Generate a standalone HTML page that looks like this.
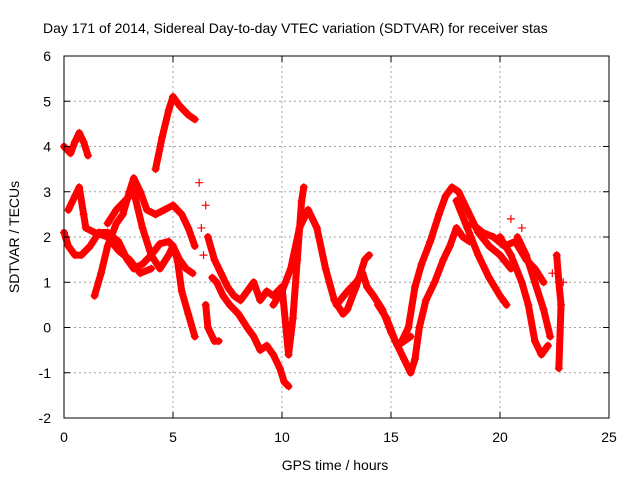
<!DOCTYPE html>
<html><head><meta charset="utf-8"><style>
body{margin:0;background:#fff}
svg text{font-family:"Liberation Sans",sans-serif;font-size:14px;fill:#000}
</style></head><body>
<svg id="chart" width="640" height="480" xmlns="http://www.w3.org/2000/svg">
<text x="43" y="33">Day 171 of 2014, Sidereal Day-to-day VTEC variation (SDTVAR) for receiver stas</text>
<g id="grid"></g>
<g id="series"></g>
<rect x="64" y="56" width="545" height="362" fill="none" stroke="#000" stroke-width="1"/>
<g id="ticks"></g>
<text x="335" y="470" text-anchor="middle">GPS time / hours</text>
<text transform="translate(19,237) rotate(-90)" text-anchor="middle">SDTVAR / TECUs</text>
</svg>
<script>
const xTicks=[0,5,10,15,20,25];
const yTicks=[-2,-1,0,1,2,3,4,5,6];
const track1=[[0,4.0],[0.3,3.85],[0.5,4.1],[0.7,4.3],[0.9,4.1],[1.1,3.8]];
const track2=[[4.2,3.5],[4.5,4.2],[4.8,4.8],[5.0,5.1],[5.3,4.9],[5.7,4.7],[6.0,4.6]];
const track3=[[0,2.1],[0.2,1.8],[0.5,1.6],[0.8,1.6],[1.2,1.8],[1.6,2.1],[2.0,2.1],[2.5,1.9],[2.9,1.5],[3.2,1.3],[3.6,1.4],[4.0,1.6],[4.4,1.85],[4.8,1.9],[5.0,1.8],[5.3,1.5],[5.6,1.3],[5.9,1.2]];
const track4=[[0.2,2.6],[0.5,2.9],[0.7,3.1],[0.9,2.5],[1.0,2.2],[1.4,2.1],[2.0,2.0],[2.5,1.7],[3.0,1.5],[3.5,1.2],[4.0,1.3]];
const track5=[[1.4,0.7],[1.7,1.2],[2.0,1.8],[2.4,2.3],[2.7,2.5],[3.0,3.0],[3.2,3.3],[3.5,3.0],[3.8,2.6],[4.2,2.5],[4.6,2.6],[5.0,2.7],[5.4,2.5],[5.7,2.2],[6.0,1.8]];
const track6=[[2.0,2.3],[2.4,2.6],[2.8,2.8],[3.2,3.0],[3.6,2.2],[4.0,1.6],[4.4,1.3],[4.8,1.6],[5.0,1.8],[5.2,1.5],[5.4,0.8],[5.7,0.3],[6.0,-0.2]];
const track7=[[6.8,1.1],[7.0,1.0],[7.3,0.7],[7.6,0.5],[8.0,0.3],[8.4,0.0],[8.7,-0.2],[9.0,-0.5],[9.3,-0.4],[9.6,-0.6],[9.9,-0.9],[10.1,-1.2],[10.3,-1.3]];
const track8=[[6.5,0.5],[6.6,0.0],[6.9,-0.3],[7.1,-0.3]];
const track9=[[6.6,2.0],[6.9,1.5],[7.2,1.2],[7.5,0.9],[7.8,0.7],[8.1,0.6],[8.4,0.8],[8.7,1.0],[9.0,0.6],[9.3,0.8],[9.6,0.7],[10.0,0.9],[10.3,-0.6],[10.5,0.2],[10.7,1.5],[10.9,2.8],[11.0,3.1]];
const track10=[[9.6,0.5],[10.0,0.8],[10.4,1.3],[10.8,2.2],[11.2,2.6],[11.6,2.2],[12.0,1.3],[12.4,0.6],[12.8,0.3],[13.0,0.4],[13.4,0.9],[13.8,1.5],[14.0,1.6]];
const track11=[[12.5,0.5],[13.0,0.8],[13.4,1.0],[13.7,1.2],[13.9,0.9],[14.2,0.7],[14.6,0.4],[15.0,-0.1],[15.3,-0.4],[15.6,-0.3],[15.9,-0.2]];
const track12=[[14.4,0.5],[14.8,0.2],[15.2,-0.3],[15.6,-0.7],[15.9,-1.0],[16.1,-0.7],[16.3,0.0],[16.6,0.6],[17.0,1.0],[17.4,1.5],[17.7,1.8],[18.0,2.2],[18.3,2.0],[18.6,1.9]];
const track13=[[15.5,-0.3],[15.8,0.0],[16.1,0.9],[16.4,1.4],[16.8,1.9],[17.2,2.5],[17.5,2.9],[17.8,3.1],[18.1,3.0],[18.5,2.6],[19.0,2.1],[19.5,1.8],[20.0,1.6],[20.5,1.3]];
const track14=[[18.0,2.8],[18.5,2.2],[19.0,1.6],[19.5,1.1],[20.0,0.7],[20.3,0.5]];
const track15=[[20.0,2.0],[20.5,1.6],[21.0,1.0],[21.3,0.5],[21.6,-0.3],[21.9,-0.6],[22.2,-0.4]];
const track16=[[20.8,2.0],[21.2,1.6],[21.6,1.0],[22.0,0.4],[22.3,-0.2]];
const track17=[[22.6,1.6],[22.7,1.0],[22.8,0.5],[22.7,-0.9]];
const track18=[[18.7,2.3],[19.2,2.1],[19.7,2.0],[20.2,1.8],[20.7,1.9],[21.2,1.5],[21.6,1.3],[22.0,1.0]];
const scatter=[[6.2,3.2],[6.5,2.7],[6.3,2.2],[6.4,1.6],[20.5,2.4],[21.0,2.2],[22.4,1.2],[22.9,1.0]];
const tracks=[track1,track2,track3,track4,track5,track6,track7,track8,track9,track10,track11,track12,track13,track14,track15,track16,track17,track18];
const X0=64,X1=609,Y0=418,Y1=56;
const sx=t=>X0+(t-0)/(25-0)*(X1-X0);
const sy=v=>Y0-(v+2)/(6+2)*(Y0-Y1);
const NS="http://www.w3.org/2000/svg";
const grid=document.getElementById('grid'),ticks=document.getElementById('ticks'),ser=document.getElementById('series');
function mk(tag,attrs,parent){const e=document.createElementNS(NS,tag);for(const k in attrs)e.setAttribute(k,attrs[k]);parent.appendChild(e);return e;}
xTicks.forEach(t=>{const x=sx(t);
 if(t>0&&t<25){const g=mk('line',{x1:x,x2:x,y1:Y0,y2:Y1,stroke:'#a0a0a0','stroke-dasharray':'2,3'},grid);
 
 }
 mk('line',{x1:x,x2:x,y1:Y0,y2:Y0-6,stroke:'#000'},ticks);mk('line',{x1:x,x2:x,y1:Y1,y2:Y1+6,stroke:'#000'},ticks);
 const l=mk('text',{x:x,y:Y0+24,'text-anchor':'middle'},ticks);l.textContent=t;
 
 });
yTicks.forEach(v=>{const y=sy(v);
 if(v>-2&&v<6){const g=mk('line',{x1:X0,x2:X1,y1:y,y2:y,stroke:'#a0a0a0','stroke-dasharray':'2,3'},grid);
 
 }
 mk('line',{x1:X0,x2:X0+6,y1:y,y2:y,stroke:'#000'},ticks);mk('line',{x1:X1,x2:X1-6,y1:y,y2:y,stroke:'#000'},ticks);
 const l=mk('text',{x:X0-13,y:y+5,'text-anchor':'end'},ticks);l.textContent=v;
 
 });
tracks.forEach((tr,i)=>{
 const pl=mk('polyline',{points:tr.map(p=>sx(p[0])+','+sy(p[1])).join(' '),fill:'none',stroke:'#ff0000','stroke-width':7,'stroke-linejoin':'round','stroke-linecap':'round'},ser);
 
 
 tr.forEach(p=>{const x=sx(p[0]),y=sy(p[1]);
  const m=mk('path',{d:`M${x-4},${y}h8M${x},${y-4}v8`,stroke:'#ff0000','stroke-width':1.2},ser);
  
  });
});
scatter.forEach(p=>{const x=sx(p[0]),y=sy(p[1]);
 const m=mk('path',{d:`M${x-4},${y}h8M${x},${y-4}v8`,stroke:'#ff0000','stroke-width':1.2},ser);
 
 });
</script>
</body></html>
